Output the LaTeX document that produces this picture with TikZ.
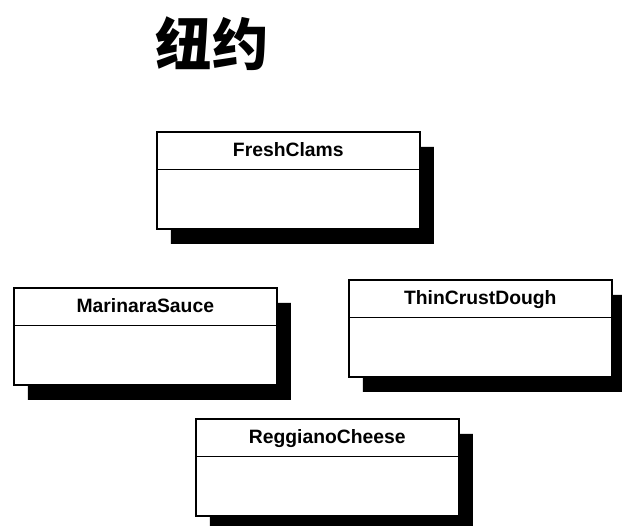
\documentclass[tikz,border=0pt]{standalone}
\usepackage{fontspec}
\setmainfont{Liberation Sans}
\newfontfamily\cjk{Noto Sans CJK SC}
\usetikzlibrary{shapes.multipart,shadows}

\tikzset{
  classbox/.style={rectangle split, rectangle split parts=2, draw, line width=0.9pt,
    fill=white, anchor=north west, minimum width=5.26cm, inner ysep=0pt,
    font=\bfseries\fontsize{11}{13}\selectfont,
    drop shadow={shadow xshift=0.28cm, shadow yshift=-0.3cm, fill=black, opacity=1}},
}
\newcommand{\classname}[1]{\rule[-7pt]{0pt}{20.6pt}#1\nodepart{two}\rule{0pt}{32.8pt}}

\begin{document}
\begin{tikzpicture}
  \useasboundingbox (0,0) rectangle (12.44,-10.5);

  \node (title) at (4.24,-0.88) {\cjk\bfseries\fontsize{32}{36}\selectfont 纽约};

  \node[classbox] (clams) at (3.12,-2.62) {\classname{FreshClams}};
  \node[classbox] (sauce) at (0.26,-5.74) {\classname{MarinaraSauce}};
  \node[classbox] (dough) at (6.96,-5.58) {\classname{ThinCrustDough}};
  \node[classbox] (cheese) at (3.90,-8.36) {\classname{ReggianoCheese}};
\end{tikzpicture}
\end{document}
